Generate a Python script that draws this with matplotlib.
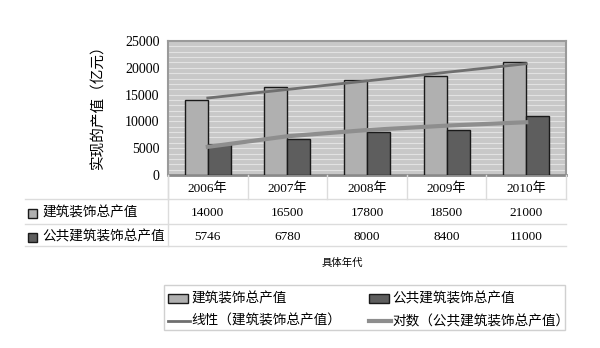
import matplotlib
matplotlib.use('Agg')
import matplotlib.pyplot as plt
import matplotlib.transforms as mtransforms
from matplotlib.patches import Rectangle
from matplotlib.lines import Line2D
import numpy as np

plt.rcParams['font.family'] = ['Liberation Serif', 'Noto Sans CJK SC']

# data
years = ['2006年', '2007年', '2008年', '2009年', '2010年']
series1_name = '建筑装饰总产值'
series2_name = '公共建筑装饰总产值'
series1 = [14000, 16500, 17800, 18500, 21000]
series2 = [5746, 6780, 8000, 8400, 11000]
trend1_name = '线性（建筑装饰总产值）'
trend2_name = '对数（公共建筑装饰总产值）'

c1 = '#b0b0b0'
c2 = '#5e5e5e'
ct1 = '#6f6f6f'
ct2 = '#8e8e8e'
cjk = ['Noto Sans CJK SC']

W, H = 600, 348
fig = plt.figure(figsize=(6, 3.48), dpi=100)
def fy(py):
    return 1 - py / H
def fx(px):
    return px / W

ax = fig.add_axes([fx(168), fy(175), fx(566) - fx(168), fy(41) - fy(175)])
ax.set_facecolor('#c8c8c8')
x = np.arange(1, len(years) + 1)
bw = 0.29
ax.bar(x - bw / 2, series1, bw, color=c1, edgecolor='#1a1a1a', linewidth=1, zorder=3)
ax.bar(x + bw / 2, series2, bw, color=c2, edgecolor='#1a1a1a', linewidth=1, zorder=3)

# trend lines fitted from the data
p1 = np.polyfit(x, series1, 1)
ax.plot(x, np.polyval(p1, x), color=ct1, lw=2, zorder=4)
p2 = np.polyfit(np.log(x), series2, 1)
ax.plot(x, np.polyval(p2, np.log(x)), color=ct2, lw=3, zorder=4)

ax.set_xlim(0.5, 5.5)
ax.set_ylim(0, 25000)
ax.set_yticks(np.arange(0, 25001, 5000))
ax.set_yticks(np.arange(0, 25001, 1000), minor=True)
ax.yaxis.grid(True, which='both', color='#e2e2e2', lw=0.8, zorder=1)
ax.set_xticks([])
ax.tick_params(axis='y', which='both', length=0, labelsize=10, pad=6)
for s in ['top', 'right', 'left']:
    ax.spines[s].set_color('#9a9a9a')
    ax.spines[s].set_linewidth(1.5)
ax.spines['bottom'].set_color('#8a8a8a')
ax.spines['bottom'].set_linewidth(2)
fig.text(fx(98), fy(103), '实现的产值（亿元）', rotation=90, ha='center', va='center',
         fontsize=10.5, family=cjk)

# data table
tr = mtransforms.blended_transform_factory(ax.transData, fig.transFigure)
line_c = '#dcdcdc'
for b in np.arange(0.5, 6.0, 1.0):
    fig.add_artist(Line2D([b, b], [fy(175), fy(199)], transform=tr, color=line_c, lw=1))
fig.add_artist(Line2D([fx(168), fx(168)], [fy(175), fy(246)], transform=fig.transFigure, color=line_c, lw=1))
for yy in [199, 224, 246]:
    fig.add_artist(Line2D([fx(25), fx(566)], [fy(yy), fy(yy)], transform=fig.transFigure, color=line_c, lw=1))

for xi, lab in zip(x, years):
    fig.text(xi, fy(189), lab, transform=tr, ha='center', va='center', fontsize=9.5)
for xi, v in zip(x, series1):
    fig.text(xi, fy(213), str(v), transform=tr, ha='center', va='center', fontsize=9.5)
for xi, v in zip(x, series2):
    fig.text(xi, fy(237), str(v), transform=tr, ha='center', va='center', fontsize=9.5)

for yy, name, col in [(213, series1_name, c1), (237, series2_name, c2)]:
    fig.add_artist(Rectangle((fx(28), fy(yy + 4.5)), fx(9), fy(yy - 4.5) - fy(yy + 4.5),
                             transform=fig.transFigure, facecolor=col, edgecolor='#1a1a1a', lw=1))
    fig.text(fx(42), fy(yy), name, ha='left', va='center', fontsize=9.8, family=cjk)

fig.text(fx(342), fy(263), '具体年代', ha='center', va='center', fontsize=7.5, family=cjk)

# legend box
fig.add_artist(Rectangle((fx(164), fy(330)), fx(565) - fx(164), fy(285) - fy(330),
                         transform=fig.transFigure, facecolor='none', edgecolor='#d0d0d0', lw=1))
for px, name, col in [(168, series1_name, c1), (369, series2_name, c2)]:
    fig.add_artist(Rectangle((fx(px), fy(303)), fx(20), fy(294) - fy(303),
                             transform=fig.transFigure, facecolor=col, edgecolor='#1a1a1a', lw=1))
    fig.text(fx(px + 23), fy(298.5), name, ha='left', va='center', fontsize=9.8, family=cjk)
for px, name, col, lw in [(168, trend1_name, ct1, 2), (369, trend2_name, ct2, 3)]:
    fig.add_artist(Line2D([fx(px), fx(px + 22)], [fy(321), fy(321)], transform=fig.transFigure,
                          color=col, lw=lw))
    fig.text(fx(px + 23), fy(321), name, ha='left', va='center', fontsize=9.8, family=cjk)

fig.savefig('out.png', dpi=100, facecolor='white')
